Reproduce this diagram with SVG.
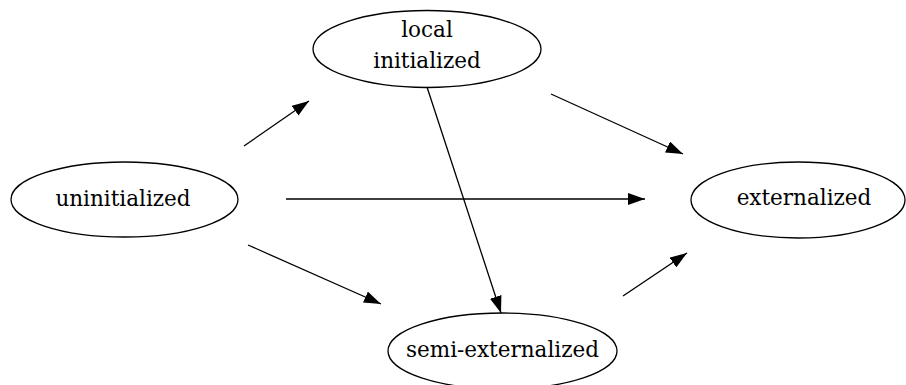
<svg xmlns="http://www.w3.org/2000/svg" width="906" height="385" viewBox="0 0 906 385">
<defs>
<marker id="ah" markerWidth="18" markerHeight="12" refX="17" refY="6" orient="auto" markerUnits="userSpaceOnUse">
<path d="M0,0 L17,6 L0,12 Z" fill="#000"/>
</marker>
<style>
.n ellipse{fill:none;stroke:#000;stroke-width:1.3}
.n text{font-family:"DejaVu Serif","Liberation Serif",serif;font-size:21.5px;text-anchor:middle;fill:#000}
#edges line{stroke:#000;stroke-width:1.3;marker-end:url(#ah)}
</style>
</defs>
<rect width="906" height="385" fill="#fff"/>
<g id="edges">
<line x1="244" y1="146" x2="309" y2="101"/>
<line x1="551" y1="94" x2="683" y2="154"/>
<line x1="286" y1="199" x2="645" y2="199"/>
<line x1="248" y1="245" x2="381" y2="304"/>
<line x1="427" y1="87" x2="501" y2="313"/>
<line x1="623" y1="296" x2="687" y2="253"/>
</g>
<g id="local" class="n">
<ellipse cx="427" cy="49" rx="114" ry="38.5"/>
<text x="427" y="37">local</text>
<text x="427" y="68">initialized</text>
</g>
<g id="uninitialized" class="n">
<ellipse cx="124.5" cy="199.5" rx="113.5" ry="37.5"/>
<text x="123" y="206">uninitialized</text>
</g>
<g id="externalized" class="n">
<ellipse cx="798" cy="200" rx="107" ry="38"/>
<text x="804" y="205">externalized</text>
</g>
<g id="semi" class="n">
<ellipse cx="502.5" cy="351" rx="114.5" ry="38"/>
<text x="502.5" y="357">semi-externalized</text>
</g>
</svg>
